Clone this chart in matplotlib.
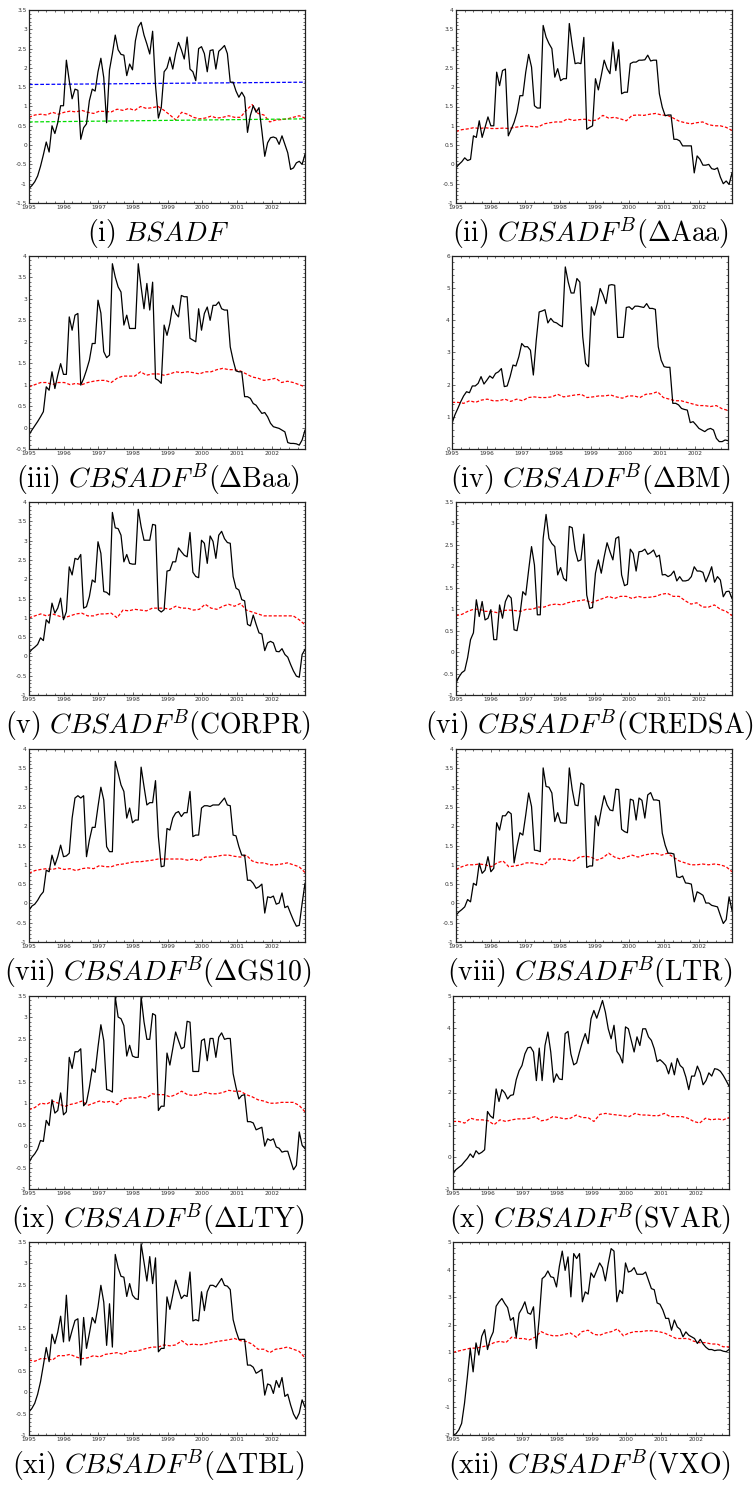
import numpy as np
import matplotlib
matplotlib.use("Agg")
import matplotlib.pyplot as plt
from matplotlib.ticker import MultipleLocator, AutoMinorLocator, FormatStrFormatter

plt.rcParams['mathtext.fontset'] = 'cm'
plt.rcParams['axes.unicode_minus'] = False

# monthly statistic (black) and bootstrapped critical values (red), 1995-2002
bsadf_stat = [-1.12, -1.05, -0.95, -0.8, -0.55, -0.25, 0.08, -0.18, 0.5, 0.3, 0.58, 1.02, 1.02, 2.2, 1.67, 1.2,
              1.45, 1.42, 0.15, 0.45, 0.55, 1.15, 1.45, 1.4, 1.9, 2.25, 1.75, 0.58, 1.95, 2.37, 2.85, 2.47, 2.35,
              2.33, 1.8, 2.1, 1.95, 2.7, 3.06, 3.18, 2.85, 2.62, 2.36, 2.95, 1.55, 0.7, 0.97, 1.9, 2.0, 2.28, 1.97,
              2.37, 2.66, 2.47, 2.23, 2.8, 1.97, 1.9, 1.67, 2.5, 2.55, 2.37, 1.9, 2.45, 2.47, 1.97, 2.43, 2.5, 2.58,
              2.37, 1.63, 1.63, 1.4, 1.24, 1.37, 1.24, 0.33, 0.77, 1.02, 0.85, 0.97, 0.37, -0.29, 0.06, 0.19, 0.21,
              0.18, 0.02, 0.24, 0.02, -0.2, -0.63, -0.59, -0.46, -0.42, -0.5, -0.24]
bsadf_cv = [0.72, 0.78, 0.8, 0.78, 0.85, 0.8, 0.85, 0.88, 0.86, 0.9, 0.85, 0.82, 0.88, 0.87, 0.86, 0.93, 0.9, 0.95,
            0.9, 1.0, 0.95, 0.97, 1.0, 0.9, 0.78, 0.65, 0.85, 0.8, 0.72, 0.68, 0.7, 0.75, 0.7, 0.72, 0.76, 0.72,
            0.72, 0.9, 1.05, 0.82, 0.78, 0.6, 0.65, 0.66, 0.68, 0.72, 0.76, 0.7]
bsadf_cv_hi = [1.57, 1.63]
bsadf_cv_lo = [0.6, 0.68]

aaa_stat = [-0.09, 0.0, 0.07, 0.17, 0.1, 0.13, 0.74, 0.7, 1.13, 0.7, 0.96, 1.23, 1.0, 1.0, 2.39, 2.04, 2.43, 2.47,
            0.74, 0.91, 1.09, 1.35, 1.78, 1.78, 2.39, 2.85, 2.52, 1.52, 1.46, 1.46, 3.6, 3.3, 3.13, 3.0, 2.26, 2.48,
            2.17, 2.22, 2.22, 3.65, 3.09, 2.61, 2.63, 2.61, 3.29, 0.91, 0.96, 1.0, 2.22, 1.93, 2.3, 2.7, 2.48, 2.35,
            3.17, 2.43, 2.97, 1.83, 1.87, 1.87, 2.61, 2.65, 2.65, 2.7, 2.7, 2.71, 2.83, 2.68, 2.7, 2.7, 1.83, 1.48,
            1.26, 1.28, 1.28, 0.65, 0.65, 0.61, 0.48, 0.48, 0.48, 0.48, -0.22, 0.22, 0.13, -0.02, -0.02, 0.0,
            -0.11, -0.13, -0.09, -0.33, -0.5, -0.43, -0.52, -0.22]
aaa_cv = [0.85, 0.9, 0.92, 0.95, 0.93, 0.95, 0.93, 0.93, 0.94, 0.93, 0.96, 0.98, 1.0, 0.98, 0.97, 1.05, 1.08, 1.1,
          1.1, 1.18, 1.14, 1.16, 1.17, 1.13, 1.15, 1.27, 1.2, 1.22, 1.18, 1.13, 1.27, 1.28, 1.27, 1.3, 1.32, 1.28,
          1.27, 1.2, 1.12, 1.08, 1.05, 1.08, 1.1, 1.03, 1.0, 1.0, 0.96, 0.88]

baa_stat = [-0.17, -0.06, 0.04, 0.14, 0.25, 0.37, 0.95, 0.87, 1.3, 0.91, 1.22, 1.49, 1.24, 1.24, 2.58, 2.27, 2.62,
            2.66, 0.99, 1.14, 1.34, 1.57, 1.96, 1.96, 2.97, 2.67, 1.77, 1.63, 1.69, 3.82, 3.51, 3.28, 3.16, 2.39,
            2.62, 2.31, 2.31, 2.31, 3.82, 3.28, 2.77, 3.36, 2.74, 3.39, 1.14, 1.1, 1.03, 2.39, 2.15, 2.43, 2.85,
            2.66, 2.58, 3.08, 3.05, 3.05, 2.08, 2.04, 2.0, 2.77, 2.27, 2.66, 2.81, 2.5, 2.85, 2.85, 2.93, 2.77, 2.74,
            2.74, 1.88, 1.57, 1.32, 1.3, 1.3, 0.72, 0.72, 0.68, 0.56, 0.52, 0.42, 0.33, 0.35, 0.25, 0.1, 0.02, 0.0,
            -0.02, -0.06, -0.1, -0.35, -0.37, -0.37, -0.38, -0.41, -0.29, -0.06]
baa_cv = [0.95, 1.0, 1.05, 1.05, 1.0, 1.05, 1.05, 1.0, 1.03, 1.0, 1.05, 1.08, 1.1, 1.1, 1.05, 1.15, 1.2, 1.2, 1.2,
          1.3, 1.22, 1.25, 1.25, 1.22, 1.25, 1.3, 1.28, 1.3, 1.28, 1.25, 1.3, 1.3, 1.35, 1.38, 1.35, 1.35, 1.32,
          1.25, 1.18, 1.15, 1.1, 1.12, 1.15, 1.05, 1.08, 1.05, 1.0, 0.95]

bm_stat = [0.8, 1.06, 1.26, 1.47, 1.65, 1.78, 1.75, 1.96, 1.96, 2.04, 2.25, 2.02, 2.14, 2.27, 2.2, 2.35, 2.4, 2.5,
           1.94, 1.96, 2.25, 2.61, 2.58, 2.87, 3.28, 3.18, 3.18, 3.07, 2.3, 3.38, 4.26, 4.29, 4.33, 3.92, 4.06, 3.95,
           3.92, 3.85, 3.8, 5.66, 5.19, 4.85, 4.85, 5.3, 5.19, 3.49, 2.66, 2.56, 4.42, 4.16, 4.52, 4.99, 4.79, 4.52,
           5.09, 5.11, 5.09, 3.47, 3.47, 3.47, 4.4, 4.42, 4.34, 4.44, 4.44, 4.42, 4.4, 4.52, 4.37, 4.37, 4.34, 3.18,
           2.76, 2.56, 2.54, 2.54, 1.42, 1.42, 1.37, 1.26, 1.23, 1.21, 0.82, 0.85, 0.75, 0.64, 0.59, 0.54, 0.61,
           0.64, 0.59, 0.33, 0.23, 0.23, 0.28, 0.26]
bm_cv = [1.45, 1.45, 1.42, 1.5, 1.45, 1.52, 1.55, 1.5, 1.5, 1.55, 1.48, 1.55, 1.5, 1.6, 1.62, 1.6, 1.6, 1.62, 1.7,
         1.62, 1.65, 1.68, 1.7, 1.6, 1.62, 1.65, 1.65, 1.68, 1.62, 1.58, 1.65, 1.65, 1.6, 1.7, 1.72, 1.78, 1.6, 1.55,
         1.5, 1.5, 1.45, 1.4, 1.35, 1.35, 1.32, 1.35, 1.25, 1.2]

corpr_stat = [0.09, 0.18, 0.24, 0.31, 0.48, 0.41, 0.95, 0.86, 1.38, 1.12, 1.25, 1.51, 0.95, 1.16, 2.32, 2.11, 2.54,
              2.51, 2.64, 1.25, 1.29, 1.55, 1.98, 1.92, 2.97, 2.67, 1.68, 1.66, 1.59, 3.73, 3.33, 3.31, 3.14, 2.45,
              2.64, 2.41, 2.39, 2.39, 3.81, 3.36, 3.01, 3.01, 3.01, 3.42, 3.4, 1.21, 1.15, 1.21, 2.21, 2.23, 2.45,
              2.45, 2.81, 2.71, 2.62, 2.58, 3.21, 2.18, 2.07, 2.04, 3.01, 2.93, 2.41, 3.12, 2.98, 2.54, 3.14, 3.24,
              3.05, 2.95, 2.93, 2.07, 1.77, 1.72, 1.47, 1.44, 0.83, 0.79, 1.07, 0.83, 0.61, 0.58, 0.15, 0.35, 0.39,
              0.35, 0.13, 0.12, 0.2, 0.05, -0.02, -0.21, -0.38, -0.51, -0.54, 0.05, 0.18]
corpr_cv = [1.0, 1.05, 1.1, 1.05, 1.1, 1.05, 1.0, 1.05, 1.1, 1.12, 1.05, 1.05, 1.1, 1.1, 1.12, 1.0, 1.2, 1.18, 1.22,
            1.2, 1.18, 1.25, 1.25, 1.25, 1.22, 1.3, 1.25, 1.25, 1.2, 1.22, 1.35, 1.25, 1.22, 1.3, 1.35, 1.3, 1.37,
            1.2, 1.15, 1.1, 1.05, 1.05, 1.05, 1.05, 1.05, 1.05, 0.95, 0.82]

credsa_stat = [-0.72, -0.58, -0.48, -0.43, -0.13, 0.29, 0.45, 1.22, 0.83, 1.18, 0.75, 0.79, 0.99, 0.29, 0.29, 1.1,
               0.79, 1.18, 1.33, 1.26, 0.52, 0.5, 0.87, 1.41, 1.33, 1.91, 2.46, 2.03, 0.87, 0.87, 2.65, 3.21, 2.65,
               2.53, 2.46, 1.8, 1.97, 1.72, 1.66, 2.93, 2.9, 2.38, 2.12, 2.15, 2.75, 1.33, 1.02, 1.04, 1.84, 2.15,
               1.84, 2.22, 2.55, 2.34, 2.15, 2.65, 2.69, 1.8, 1.55, 1.58, 2.4, 2.3, 1.89, 2.34, 2.35, 2.4, 2.28, 2.32,
               2.38, 2.22, 2.26, 1.8, 1.81, 1.76, 1.8, 1.89, 1.66, 1.76, 1.66, 1.66, 1.68, 1.76, 1.99, 1.89, 1.89,
               1.86, 1.64, 1.8, 1.99, 1.63, 1.76, 1.68, 1.29, 1.41, 1.42, 1.25]
credsa_cv = [0.85, 0.88, 0.95, 1.0, 1.0, 0.95, 0.95, 0.92, 0.97, 0.98, 0.97, 0.95, 1.0, 1.0, 1.05, 1.05, 1.1, 1.12,
             1.1, 1.15, 1.18, 1.2, 1.22, 1.15, 1.2, 1.25, 1.3, 1.25, 1.3, 1.3, 1.25, 1.3, 1.27, 1.28, 1.3, 1.35, 1.37,
             1.3, 1.3, 1.2, 1.12, 1.15, 1.05, 1.05, 1.1, 1.0, 0.95, 0.85]

gs10_stat = [-0.18, -0.07, -0.02, 0.08, 0.21, 0.3, 0.86, 0.82, 1.25, 0.99, 1.21, 1.51, 1.21, 1.23, 1.3, 2.21, 2.73,
             2.79, 2.73, 2.79, 1.21, 1.64, 1.97, 1.97, 2.51, 3.01, 2.68, 1.47, 1.34, 1.34, 3.68, 3.38, 3.07, 2.9,
             2.21, 2.47, 2.09, 2.16, 2.16, 3.53, 3.03, 2.55, 2.61, 2.61, 3.18, 1.73, 0.95, 0.97, 1.94, 1.9, 2.21,
             2.34, 2.38, 2.25, 2.35, 2.35, 2.9, 1.73, 1.77, 1.77, 2.47, 2.53, 2.53, 2.51, 2.55, 2.55, 2.55, 2.64,
             2.73, 2.55, 2.53, 1.77, 1.75, 1.47, 1.25, 1.25, 0.6, 0.6, 0.52, 0.39, 0.43, 0.5, -0.25, 0.17, 0.15,
             0.19, -0.02, 0.01, 0.27, -0.11, -0.07, -0.26, -0.44, -0.59, -0.57, 0.0, 0.52]
gs10_cv = [0.78, 0.85, 0.88, 0.9, 0.88, 0.92, 0.88, 0.9, 0.85, 0.9, 0.92, 0.9, 0.98, 0.95, 0.95, 1.0, 1.02, 1.05,
           1.08, 1.08, 1.1, 1.12, 1.15, 1.15, 1.15, 1.15, 1.15, 1.12, 1.15, 1.1, 1.2, 1.2, 1.22, 1.25, 1.25, 1.22,
           1.2, 1.25, 1.1, 1.05, 1.05, 1.0, 1.0, 1.02, 1.05, 1.0, 0.95, 0.8]

ltr_stat = [-0.31, -0.22, -0.16, -0.09, 0.1, 0.04, 0.52, 0.47, 1.04, 0.78, 0.86, 1.21, 0.82, 0.91, 2.09, 1.9, 2.27,
            2.27, 2.38, 2.32, 1.05, 1.47, 1.83, 1.77, 2.29, 2.86, 2.51, 1.38, 1.37, 1.34, 3.51, 3.03, 3.01, 2.86,
            2.12, 2.35, 2.09, 2.08, 2.08, 3.51, 2.95, 2.55, 2.53, 3.12, 3.07, 0.93, 0.97, 0.97, 2.27, 2.01, 2.42,
            2.79, 2.55, 2.42, 2.4, 2.96, 2.95, 1.92, 1.86, 1.83, 2.7, 2.67, 2.16, 2.73, 2.67, 2.21, 2.81, 2.87, 2.68,
            2.68, 2.66, 1.82, 1.51, 1.3, 1.3, 1.28, 0.69, 0.67, 0.71, 0.53, 0.52, 0.5, 0.04, 0.3, 0.26, 0.21, 0.01,
            0.01, -0.05, -0.07, -0.09, -0.31, -0.52, -0.42, 0.17, -0.18]
ltr_cv = [0.88, 0.95, 1.0, 1.0, 1.02, 1.0, 0.95, 1.05, 1.1, 0.95, 0.97, 1.0, 1.05, 1.05, 1.02, 1.0, 1.15, 1.15,
          1.15, 1.12, 1.1, 1.2, 1.22, 1.2, 1.12, 1.18, 1.3, 1.2, 1.15, 1.2, 1.25, 1.2, 1.25, 1.28, 1.3, 1.25, 1.3,
          1.2, 1.1, 1.05, 1.0, 1.0, 1.02, 1.0, 1.02, 1.0, 0.95, 0.82]

lty_stat = [-0.38, -0.26, -0.18, -0.07, 0.13, 0.11, 0.6, 0.48, 1.08, 0.77, 0.83, 1.24, 0.73, 0.8, 2.07, 1.81, 2.2,
            2.2, 2.27, 0.94, 1.02, 1.37, 1.8, 1.72, 2.31, 2.83, 2.46, 1.32, 1.3, 1.26, 3.48, 3.01, 2.97, 2.81, 2.1,
            2.35, 2.1, 2.07, 2.07, 3.48, 2.9, 2.49, 2.49, 3.09, 3.05, 0.83, 0.93, 0.93, 2.17, 1.89, 2.27, 2.66, 2.46,
            2.27, 2.31, 2.91, 2.89, 1.74, 1.74, 1.74, 2.46, 2.5, 1.99, 2.51, 2.51, 2.07, 2.54, 2.64, 2.49, 2.51,
            2.51, 1.69, 1.37, 1.1, 1.18, 1.2, 0.57, 0.57, 0.54, 0.38, 0.41, 0.44, 0.0, 0.17, 0.13, 0.17, -0.02,
            -0.05, -0.14, -0.12, -0.12, -0.34, -0.55, -0.45, 0.33, 0.02, -0.06]
lty_cv = [0.85, 0.9, 1.0, 0.98, 1.05, 1.0, 0.92, 0.97, 1.0, 1.05, 0.95, 1.0, 1.05, 1.02, 1.05, 0.97, 1.1, 1.12, 1.12,
          1.15, 1.12, 1.22, 1.2, 1.2, 1.15, 1.2, 1.28, 1.2, 1.18, 1.2, 1.25, 1.22, 1.22, 1.25, 1.3, 1.28, 1.28, 1.2,
          1.15, 1.08, 1.05, 1.0, 1.0, 1.02, 1.02, 1.02, 0.95, 0.8]

svar_stat = [-0.53, -0.4, -0.33, -0.26, -0.15, -0.05, 0.09, -0.02, 0.19, 0.09, 0.14, 0.22, 1.41, 1.27, 1.2, 2.11,
             1.72, 2.09, 1.99, 1.8, 1.91, 1.93, 2.4, 2.68, 2.84, 3.2, 3.39, 3.41, 3.26, 2.37, 3.38, 2.37, 3.46, 3.88,
             3.26, 2.32, 2.58, 2.42, 2.4, 3.83, 3.9, 3.2, 2.86, 2.92, 3.26, 3.57, 3.83, 3.52, 4.29, 4.55, 4.31, 4.58,
             4.86, 4.5, 3.98, 3.67, 4.09, 3.28, 3.15, 2.92, 4.04, 3.98, 3.62, 3.26, 3.73, 3.46, 3.98, 3.98, 3.73,
             3.62, 3.36, 2.96, 3.02, 2.94, 2.84, 2.58, 2.92, 2.55, 3.06, 2.84, 2.76, 2.48, 2.09, 2.51, 2.51, 2.82,
             2.61, 2.24, 2.37, 2.61, 2.51, 2.74, 2.72, 2.66, 2.53, 2.37, 2.2]
svar_cv = [1.1, 1.1, 1.05, 1.2, 1.15, 1.15, 1.12, 1.0, 1.15, 1.1, 1.15, 1.18, 1.18, 1.2, 1.25, 1.12, 1.15, 1.25,
           1.22, 1.18, 1.2, 1.3, 1.22, 1.22, 1.1, 1.32, 1.35, 1.32, 1.3, 1.28, 1.25, 1.35, 1.3, 1.3, 1.28, 1.28, 1.35,
           1.25, 1.25, 1.25, 1.2, 1.1, 1.05, 1.2, 1.15, 1.18, 1.15, 1.22]

tbl_stat = [-0.46, -0.38, -0.26, -0.05, 0.24, 0.63, 1.04, 0.71, 1.35, 1.13, 1.4, 1.77, 1.17, 2.26, 1.19, 1.44, 1.67,
            1.71, 0.63, 1.74, 1.02, 1.37, 1.74, 1.61, 1.99, 2.49, 2.1, 1.09, 2.06, 1.05, 3.21, 2.9, 2.7, 2.68, 2.23,
            2.53, 2.26, 2.18, 2.16, 3.46, 3.03, 2.59, 3.16, 2.53, 3.13, 0.94, 1.02, 1.02, 2.22, 1.93, 2.26, 2.61,
            2.39, 2.18, 2.26, 2.23, 2.8, 1.66, 1.69, 1.66, 2.34, 1.9, 2.34, 2.49, 2.49, 2.45, 2.55, 2.65, 2.49, 2.47,
            2.39, 1.69, 1.43, 1.23, 1.23, 1.23, 0.63, 0.63, 0.58, 0.44, 0.48, 0.53, -0.07, 0.19, 0.16, -0.03, 0.27,
            0.11, 0.34, -0.1, -0.05, -0.3, -0.51, -0.63, -0.49, -0.18, -0.35]
tbl_cv = [0.75, 0.72, 0.78, 0.78, 0.75, 0.85, 0.85, 0.88, 0.82, 0.78, 0.8, 0.85, 0.82, 0.88, 0.9, 0.92, 0.88, 0.95,
          0.95, 0.98, 1.02, 1.05, 1.05, 1.1, 1.08, 1.1, 1.2, 1.1, 1.12, 1.1, 1.12, 1.15, 1.18, 1.2, 1.22, 1.25, 1.2,
          1.18, 1.12, 1.0, 1.0, 0.92, 1.0, 1.02, 1.05, 1.0, 0.95, 0.8]

vxo_stat = [-2.0, -1.96, -1.82, -1.58, -0.85, 0.11, 1.14, 0.29, 1.34, 0.9, 1.58, 1.82, 1.1, 1.5, 1.74, 2.67, 2.83,
            2.95, 2.77, 2.62, 2.16, 2.26, 1.54, 2.41, 2.59, 2.83, 2.43, 2.38, 2.65, 1.14, 2.26, 3.67, 3.76, 3.95,
            3.74, 3.71, 3.37, 4.12, 4.67, 3.97, 4.46, 3.01, 4.58, 4.4, 4.58, 2.83, 3.19, 3.11, 3.88, 3.71, 3.97,
            4.24, 4.07, 3.59, 4.22, 4.76, 4.67, 2.83, 3.25, 3.13, 4.24, 3.91, 3.95, 4.07, 3.83, 3.83, 3.83, 3.91,
            3.61, 3.31, 3.27, 2.79, 2.74, 2.53, 2.23, 2.23, 1.8, 2.17, 1.92, 1.83, 1.56, 1.74, 1.62, 1.56, 1.5, 1.32,
            1.47, 1.3, 1.18, 1.1, 1.1, 1.06, 1.08, 1.08, 1.04, 1.02, 1.1]
vxo_cv = [1.0, 1.05, 1.1, 1.15, 1.15, 1.2, 1.25, 1.35, 1.4, 1.35, 1.55, 1.5, 1.5, 1.45, 1.55, 1.75, 1.65, 1.6, 1.6,
          1.65, 1.7, 1.55, 1.75, 1.8, 1.65, 1.62, 1.7, 1.75, 1.85, 1.6, 1.7, 1.75, 1.75, 1.78, 1.78, 1.75, 1.7, 1.6,
          1.5, 1.5, 1.5, 1.4, 1.35, 1.35, 1.3, 1.3, 1.2, 1.2]

captions = [r'$\mathrm{(i)}\ BSADF$',
            r'$\mathrm{(ii)}\ CBSADF^{B}(\Delta\mathrm{Aaa})$',
            r'$\mathrm{(iii)}\ CBSADF^{B}(\Delta\mathrm{Baa})$',
            r'$\mathrm{(iv)}\ CBSADF^{B}(\Delta\mathrm{BM})$',
            r'$\mathrm{(v)}\ CBSADF^{B}(\mathrm{CORPR})$',
            r'$\mathrm{(vi)}\ CBSADF^{B}(\mathrm{CREDSA})$',
            r'$\mathrm{(vii)}\ CBSADF^{B}(\Delta\mathrm{GS10})$',
            r'$\mathrm{(viii)}\ CBSADF^{B}(\mathrm{LTR})$',
            r'$\mathrm{(ix)}\ CBSADF^{B}(\Delta\mathrm{LTY})$',
            r'$\mathrm{(x)}\ CBSADF^{B}(\mathrm{SVAR})$',
            r'$\mathrm{(xi)}\ CBSADF^{B}(\Delta\mathrm{TBL})$',
            r'$\mathrm{(xii)}\ CBSADF^{B}(\mathrm{VXO})$']

stats = [bsadf_stat, aaa_stat, baa_stat, bm_stat, corpr_stat, credsa_stat,
         gs10_stat, ltr_stat, lty_stat, svar_stat, tbl_stat, vxo_stat]
cvs = [bsadf_cv, aaa_cv, baa_cv, bm_cv, corpr_cv, credsa_cv,
       gs10_cv, ltr_cv, lty_cv, svar_cv, tbl_cv, vxo_cv]
ylims = [(-1.5, 3.5), (-1, 4), (-0.5, 4), (0, 6), (-1, 4), (-1, 3.5),
         (-1, 4), (-1, 4), (-1, 3.5), (-1, 5), (-1, 3.5), (-2, 5)]
ysteps = [0.5, 0.5, 0.5, 1, 0.5, 0.5, 0.5, 0.5, 0.5, 1, 0.5, 1]
years = list(range(1995, 2003))

t0, t1 = 1995.0, 2002.96

W, H = 753, 1487
fig = plt.figure(figsize=(W / 100, H / 100), dpi=100)

row_top = [10, 256, 502, 749, 996, 1242]
left_px = [29, 456]
right_lefts = [456, 452, 456, 456, 453, 453]
ax_w, ax_h = 276, 193

for k in range(12):
    r, c = divmod(k, 2)
    x0 = 29 if c == 0 else right_lefts[r]
    top = row_top[r]
    ax = fig.add_axes([x0 / W, 1 - (top + ax_h) / H, ax_w / W, ax_h / H])

    s = stats[k]
    cv = cvs[k]
    ax.plot(np.linspace(t0, t1, len(cv)), cv, color='red', lw=0.9, ls=(0, (2.5, 1.5)))
    if k == 0:
        ax.plot([t0, t1], bsadf_cv_hi, color='blue', lw=0.9, ls=(0, (3, 1.5)))
        ax.plot([t0, t1], bsadf_cv_lo, color='#00dd00', lw=0.9, ls=(0, (3, 1.5)))
    ax.plot(np.linspace(t0, t1, len(s)), s, color='black', lw=0.9)

    ax.set_xlim(t0, t1)
    ax.set_ylim(*ylims[k])
    ax.set_xticks(years)
    ax.set_xticklabels([str(y) for y in years])
    ax.yaxis.set_major_locator(MultipleLocator(ysteps[k]))
    ax.yaxis.set_major_formatter(FormatStrFormatter('%g'))
    ax.yaxis.set_minor_locator(AutoMinorLocator(5))
    ax.xaxis.set_minor_locator(AutoMinorLocator(4))
    ax.tick_params(which='both', direction='in', top=True, right=True,
                   labelsize=4.2, pad=1.5, width=0.5, colors='#333333')
    ax.tick_params(which='major', length=2.5)
    ax.tick_params(which='minor', length=1.3)
    for sp in ax.spines.values():
        sp.set_linewidth(0.9)
        sp.set_color('#222222')

    cx = 158 if c == 0 else 590
    fig.text(cx / W, 1 - (top + 224) / H, captions[k], ha='center', va='center', fontsize=20)

fig.savefig('out.png', dpi=100)
